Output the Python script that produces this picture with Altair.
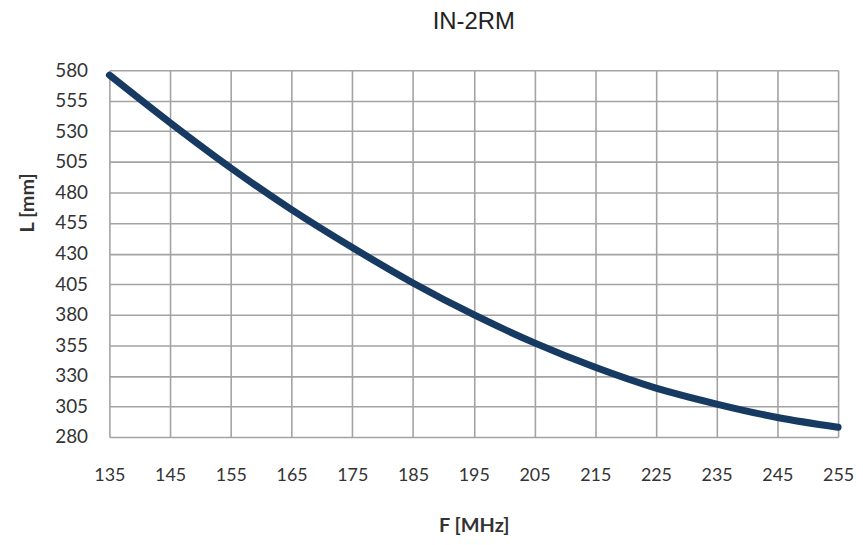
import altair as alt
import pandas as pd

freq_mhz = [135, 145, 155, 165, 175, 185, 195, 205, 215, 225, 235, 245, 255]
length_mm = [576, 537, 500, 466, 435, 406, 380, 357, 337, 320, 307, 296, 288]
x_ticks = [135, 145, 155, 165, 175, 185, 195, 205, 215, 225, 235, 245, 255]
y_ticks = [280, 305, 330, 355, 380, 405, 430, 455, 480, 505, 530, 555, 580]

df = pd.DataFrame({"F": freq_mhz, "L": length_mm})

W, H = 733, 369

chart = alt.Chart(df).mark_line(
    color="#173a63", strokeWidth=7, interpolate="monotone", strokeCap="round"
).encode(
    x=alt.X("F:Q", scale=alt.Scale(domain=[135, 255], nice=False, zero=False),
            axis=alt.Axis(values=x_ticks, title="F [MHz]", labelPadding=30,
                          labelFontSize=18,
                          ticks=False, tickSize=0, domain=False, labelFlush=False,
                          titleX=W / 2, titleY=89, titleBaseline="middle",
                          titleAnchor="middle")),
    y=alt.Y("L:Q", scale=alt.Scale(domain=[280, 580], nice=False, zero=False),
            axis=alt.Axis(values=y_ticks, title="L [mm]", labelPadding=22,
                          ticks=False, tickSize=0, domain=False, labelFlush=False,
                          titleX=-82, titleY=133, titleBaseline="middle",
                          titleAlign="center", titleAngle=270)),
).properties(
    width=W, height=H,
    title=alt.TitleParams("IN-2RM", fontSize=24, font="Liberation Sans",
                          fontWeight="normal", color="#222222", offset=38,
                          anchor="middle", baseline="alphabetic", frame="group", dy=30),
    autosize=alt.AutoSizeParams(type="none"),
    padding={"left": 102, "top": 61, "right": 17, "bottom": 97},
).configure_view(stroke=None).configure_axis(
    grid=True, gridColor="#a3a3a3", gridWidth=1.6, gridOpacity=1,
    labelFont="Lato", labelFontSize=19, labelColor="#333333",
    titleFont="Lato", titleFontSize=20, titleColor="#333333", titleFontWeight="bold",
)

chart.save("out.html", embed_options={"renderer": "svg", "actions": False})
